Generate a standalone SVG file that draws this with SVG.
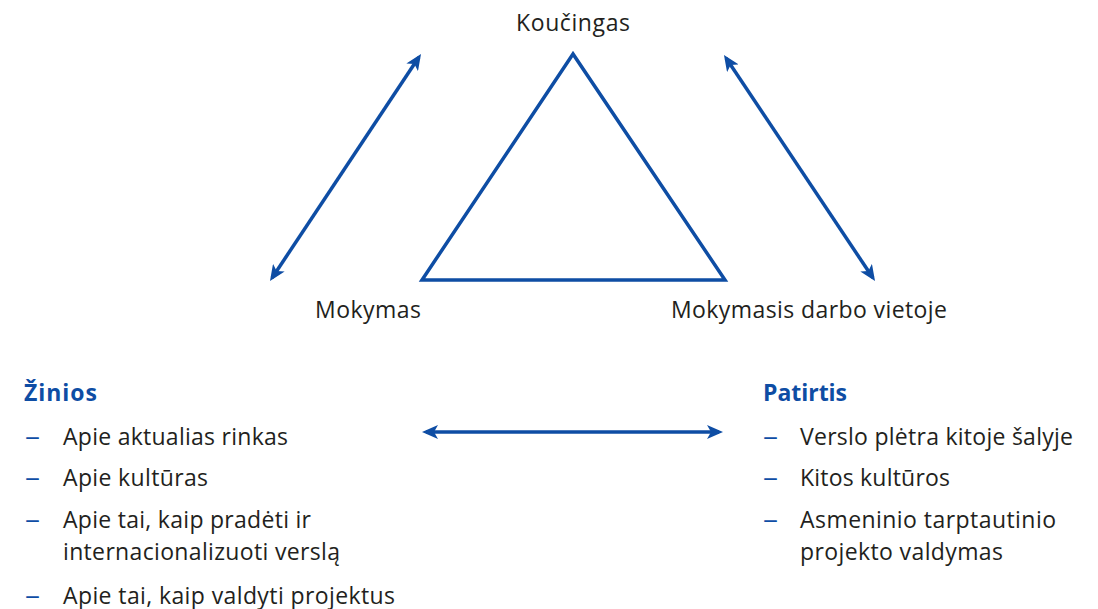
<svg xmlns="http://www.w3.org/2000/svg" width="1098" height="609" viewBox="0 0 1098 609">
<style>
.t{font-family:"Open Sans","Noto Sans",sans-serif;font-size:23px;fill:#231f20}
.h{font-family:"Open Sans","Noto Sans",sans-serif;font-size:23px;font-weight:bold;fill:#0e4da4}
.d{font-family:"Open Sans","Noto Sans",sans-serif;font-size:23px;fill:#0e4da4}
.ln{stroke:#0e4da4;stroke-width:3.5;fill:none}
</style>
<defs>
<marker id="ah" viewBox="0 0 16 14" refX="12" refY="7" markerWidth="16" markerHeight="14" markerUnits="userSpaceOnUse" orient="auto-start-reverse">
<path d="M0,0 L16,7 L0,14 L4,7 z" fill="#0e4da4"/>
</marker>
</defs>
<g id="triangle">
<polygon points="573,54 422,280 725,280" fill="none" stroke="#0e4da4" stroke-width="3.5" stroke-linejoin="miter"/>
</g>
<g id="node-koucingas"><text class="t" x="573" y="31" text-anchor="middle" textLength="114">Koučingas</text></g>
<g id="node-mokymas"><text class="t" x="315" y="318" textLength="106">Mokymas</text></g>
<g id="node-darbo"><text class="t" x="671" y="318" textLength="276">Mokymasis darbo vietoje</text></g>
<g id="connectors">
<line class="ln" x1="272.2" y1="277.7" x2="418.8" y2="57.3" marker-start="url(#ah)" marker-end="url(#ah)"/>
<line class="ln" x1="726.2" y1="58.3" x2="872.8" y2="277.7" marker-start="url(#ah)" marker-end="url(#ah)"/>
<line class="ln" x1="426" y1="432" x2="719" y2="432" marker-start="url(#ah)" marker-end="url(#ah)"/>
</g>
<g id="node-zinios">
<text class="h" x="24" y="401" textLength="73">Žinios</text>
<text class="d" x="25" y="445" textLength="15" lengthAdjust="spacingAndGlyphs">–</text><text class="t" x="63" y="445" textLength="225">Apie aktualias rinkas</text>
<text class="d" x="25" y="486" textLength="15" lengthAdjust="spacingAndGlyphs">–</text><text class="t" x="63" y="486" textLength="145">Apie kultūras</text>
<text class="d" x="25" y="528" textLength="15" lengthAdjust="spacingAndGlyphs">–</text><text class="t" x="63" y="528" textLength="248">Apie tai, kaip pradėti ir</text>
<text class="t" x="63" y="560" textLength="277">internacionalizuoti verslą</text>
<text class="d" x="25" y="604" textLength="15" lengthAdjust="spacingAndGlyphs">–</text><text class="t" x="63" y="604" textLength="332">Apie tai, kaip valdyti projektus</text>
</g>
<g id="node-patirtis">
<text class="h" x="763" y="401" textLength="84">Patirtis</text>
<text class="d" x="763" y="445" textLength="15" lengthAdjust="spacingAndGlyphs">–</text><text class="t" x="800" y="445" textLength="273">Verslo plėtra kitoje šalyje</text>
<text class="d" x="763" y="486" textLength="15" lengthAdjust="spacingAndGlyphs">–</text><text class="t" x="800" y="486" textLength="150">Kitos kultūros</text>
<text class="d" x="763" y="528" textLength="15" lengthAdjust="spacingAndGlyphs">–</text><text class="t" x="800" y="528" textLength="256">Asmeninio tarptautinio</text>
<text class="t" x="800" y="560" textLength="203">projekto valdymas</text>
</g>
</svg>
